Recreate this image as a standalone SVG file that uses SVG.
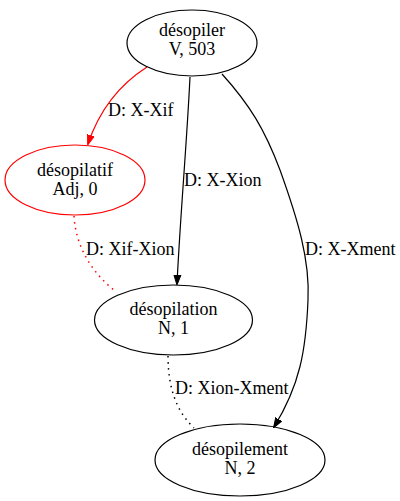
<svg xmlns="http://www.w3.org/2000/svg" width="400" height="501" viewBox="0 0 400 501">
<style>
text{font-family:"Liberation Serif","Times New Roman",serif;font-size:18px;fill:#000}
.n{text-anchor:middle}
.e{fill:none;stroke:#000;stroke-width:1.2}
.red{stroke:#ff0000}
.dot{stroke-dasharray:1.5,4.5;stroke-width:1.5}
ellipse{fill:none;stroke:#000;stroke-width:1.2}
</style>
<defs>
<marker id="ab" markerWidth="10" markerHeight="10" refX="9" refY="5" orient="auto" markerUnits="userSpaceOnUse"><path d="M0,1.5 L10,5 L0,8.5 Z" fill="#000" stroke="#000"/></marker>
<marker id="ar" markerWidth="10" markerHeight="10" refX="9" refY="5" orient="auto" markerUnits="userSpaceOnUse"><path d="M0,1.5 L10,5 L0,8.5 Z" fill="#ff0000" stroke="#ff0000"/></marker>
</defs>
<g id="edges">
<path class="e red" d="M147,67 C122,83 100,108 88,144" marker-end="url(#ar)"/>
<text x="108" y="116">D: X-Xif</text>
<path class="e" d="M190,77 C187,140 180,220 177,284" marker-end="url(#ab)"/>
<text x="184" y="186">D: X-Xion</text>
<path class="e" d="M222,74 C250,105 265,130 280,170 C298,220 310,260 308,300 C306,350 300,385 274,427" marker-end="url(#ab)"/>
<text x="305" y="255">D: X-Xment</text>
<path class="e red dot" d="M74,216 C76,250 95,275 115,291"/>
<text x="86" y="255">D: Xif-Xion</text>
<path class="e dot" d="M168,356 C168,385 175,410 194,428"/>
<text x="175" y="394">D: Xion-Xment</text>
</g>
<g id="n_desopiler">
<ellipse cx="192" cy="43" rx="65" ry="33"/>
<text class="n" x="192" y="36">désopiler</text>
<text class="n" x="192" y="55">V, 503</text>
</g>
<g id="n_desopilatif">
<ellipse cx="75" cy="180" rx="70" ry="35" style="stroke:#ff0000"/>
<text class="n" x="75" y="176">désopilatif</text>
<text class="n" x="75" y="195">Adj, 0</text>
</g>
<g id="n_desopilation">
<ellipse cx="173.5" cy="320" rx="79" ry="35"/>
<text class="n" x="173.5" y="315">désopilation</text>
<text class="n" x="173.5" y="334">N, 1</text>
</g>
<g id="n_desopilement">
<ellipse cx="240" cy="460" rx="85" ry="36"/>
<text class="n" x="240" y="455">désopilement</text>
<text class="n" x="240" y="474">N, 2</text>
</g>
</svg>
